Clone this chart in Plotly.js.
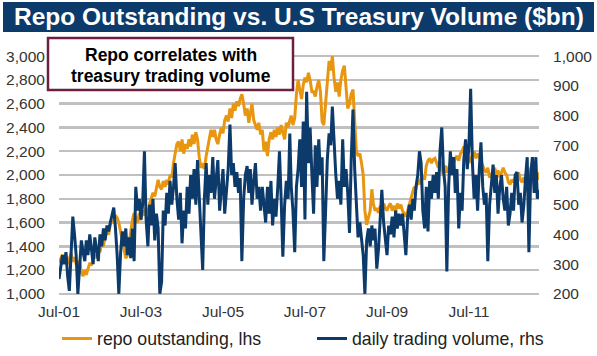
<!DOCTYPE html>
<html>
<head>
<meta charset="utf-8">
<script src="https://cdn.plot.ly/plotly-3.0.1.min.js"></script>
<style>html,body{margin:0;padding:0;background:#fff;}#chart{width:597px;height:356px;}</style>
</head>
<body>
<div id="chart"></div>
<script>
// ---- data (semi-monthly observations, Jul 2001 .. Mar 2013) ----
const startYear = 2001, startMonth = 7;
const dates = [];
for (let i = 0; i < 282; i++) {
  const m = startMonth - 1 + Math.floor(i / 2);
  const y = startYear + Math.floor(m / 12);
  const mm = (m % 12) + 1;
  dates.push(y + '-' + String(mm).padStart(2, '0') + '-' + (i % 2 ? '16' : '01'));
}

const repoOutstanding = [
1260,1300,1330,1280,1320,1250,1300,1340,1270,1310,
1250,1220,1280,1180,1150,1200,1160,1220,1260,1240,
1280,1330,1300,1380,1350,1430,1400,1480,1520,1500,
1580,1620,1600,1660,1640,1600,1520,1450,1380,1300,
1320,1420,1520,1620,1680,1640,1600,1680,1620,1700,
1660,1720,1680,1760,1800,1850,1820,1900,1960,1900,
1880,1950,1900,1960,1920,2000,1980,2100,2200,2260,
2280,2200,2300,2180,2260,2220,2300,2240,2340,2260,
2360,2300,2150,2060,2100,2050,2160,2250,2300,2380,
2320,2380,2300,2260,2340,2400,2350,2460,2500,2450,
2560,2480,2600,2540,2620,2580,2640,2680,2600,2500,
2560,2440,2520,2600,2460,2420,2380,2440,2340,2380,
2200,2280,2160,2300,2360,2300,2380,2320,2400,2340,
2420,2360,2300,2440,2400,2460,2500,2420,2480,2680,
2800,2720,2640,2760,2820,2780,2860,2800,2700,2700,
2660,2740,2800,2700,2450,2420,2620,2800,2960,2880,
3000,2820,2700,2780,2660,2800,2880,2920,2720,2560,
2600,2680,2720,2500,2200,2160,2180,2100,2000,1700,
1580,1640,1700,1880,1760,1700,1720,1680,1740,1700,
1760,1720,1700,1740,1760,1700,1740,1690,1760,1720,
1750,1700,1680,1650,1700,1760,1800,1860,1900,1880,
1960,1920,1980,2000,1960,2080,2120,2140,2100,2130,
2140,2100,2060,2120,2040,2000,2080,2020,2060,2100,
2050,2110,2140,2160,2120,2180,2200,2240,2200,2160,
2100,2140,2160,2200,2140,2180,2150,2120,2080,2040,
2020,2060,1980,2000,2040,2060,2000,2040,1980,2020,
2060,2020,2000,1940,1920,1960,1940,1980,2000,2020,
1960,1940,1980,1920,1960,2000,2060,2100,2040,1980,2020,1960];

const tradingVolume = [
250,290,330,300,340,260,210,330,460,400,
330,200,300,380,340,310,380,330,400,350,
300,390,340,310,400,360,420,380,430,410,
440,460,490,420,330,200,340,410,360,420,
330,390,320,420,310,560,480,520,450,500,
680,450,360,500,430,520,380,470,420,200,
240,480,430,540,470,580,500,560,640,520,
450,540,370,480,420,560,470,600,520,620,
500,650,540,430,280,520,640,500,600,540,
660,520,600,650,480,560,620,470,560,620,
770,600,640,560,610,540,590,310,520,600,
630,540,620,500,580,640,520,560,480,560,
500,440,560,470,580,430,520,460,560,680,
520,325,500,580,520,740,560,480,340,560,
620,720,560,780,450,880,640,760,600,470,
700,560,720,600,660,310,480,650,740,700,
830,700,600,520,580,500,720,560,620,540,
405,650,820,620,480,390,440,380,330,200,
380,420,360,430,380,420,285,350,440,550,
440,380,330,430,400,460,390,480,420,470,
430,470,390,330,460,500,450,520,480,560,
600,680,640,480,420,560,410,580,520,600,
540,610,520,680,760,620,560,275,560,680,
600,660,540,620,420,540,480,650,720,620,
700,890,640,520,600,480,620,710,560,500,
540,310,500,580,635,540,600,470,560,600,
520,480,560,430,470,540,480,600,610,500,
540,440,500,590,660,340,600,660,540,660,520,550];

const xTickVals = ['2001-07-01','2003-07-01','2005-07-01','2007-07-01','2009-07-01','2011-07-01'];
const xTickText = ['Jul-01','Jul-03','Jul-05','Jul-07','Jul-09','Jul-11'];
const leftTicks = [1000,1200,1400,1600,1800,2000,2200,2400,2600,2800,3000];
const rightTicks = [200,300,400,500,600,700,800,900,1000];
const seriesNames = ['repo outstanding, lhs', 'daily trading volume, rhs'];
const chartTitle = 'Repo Outstanding vs. U.S Treasury Volume ($bn)';
const noteLines = ['Repo correlates with', 'treasury trading volume'];

// ---- layout helpers (pixel -> paper) ----
const L = 59, T = 55, PW = 480, PH = 240;
const px = x => (x - L) / PW;
const py = y => (T + PH - y) / PH;

const NAVY = '#0b3a6b', ORANGE = '#e8950f';
const FONT = 'Arial, "Liberation Sans", sans-serif';

const traces = [
  { x: dates, y: repoOutstanding, name: seriesNames[0], type: 'scatter', mode: 'lines',
    line: { color: ORANGE, width: 3 }, yaxis: 'y', legend: 'legend' },
  { x: dates, y: tradingVolume, name: seriesNames[1], type: 'scatter', mode: 'lines',
    line: { color: NAVY, width: 3 }, yaxis: 'y2', legend: 'legend2' }
];

const legendBase = {
  orientation: 'h', xanchor: 'left', yanchor: 'middle', y: py(339),
  font: { size: 17.7, color: '#222', family: FONT }, itemwidth: 30,
  bgcolor: 'rgba(0,0,0,0)', borderwidth: 0
};

const layout = {
  width: 597, height: 356,
  margin: { l: L, r: 597 - L - PW, t: T, b: 356 - T - PH, pad: 0, autoexpand: false },
  paper_bgcolor: '#fff', plot_bgcolor: '#fff',
  font: { family: FONT, color: '#333' },
  showlegend: true,
  legend: Object.assign({}, legendBase, { x: px(57) }),
  legend2: Object.assign({}, legendBase, { x: px(312) }),
  xaxis: { type: 'date', range: ['2001-07-01', '2013-03-16'], tickmode: 'array',
    tickvals: xTickVals, ticktext: xTickText, showgrid: false, zeroline: false, showline: false,
    ticks: 'outside', ticklen: 2, tickcolor: 'rgba(0,0,0,0)',
    tickfont: { size: 15.5, color: '#333', family: FONT } },
  yaxis: { range: [990, 3010], tickmode: 'array', tickvals: leftTicks, tickformat: ',d',
    showgrid: true, gridcolor: '#c0c0c0', gridwidth: 2.5, zeroline: false, showline: false,
    ticks: 'outside', ticklen: 10, tickcolor: 'rgba(0,0,0,0)',
    tickfont: { size: 15.5, color: '#333', family: FONT } },
  yaxis2: { overlaying: 'y', side: 'right', range: [196, 1004], tickmode: 'array',
    tickvals: rightTicks, tickformat: ',d', showgrid: false, zeroline: false, showline: false,
    ticks: 'outside', ticklen: 10, tickcolor: 'rgba(0,0,0,0)',
    tickfont: { size: 15.5, color: '#333', family: FONT } },
  shapes: [
    { type: 'rect', xref: 'paper', yref: 'paper', x0: px(3), x1: px(594), y0: py(2), y1: py(32),
      fillcolor: NAVY, line: { width: 0 }, layer: 'above' },
    { type: 'rect', xref: 'paper', yref: 'paper', x0: px(48), x1: px(293), y0: py(38), y1: py(90),
      fillcolor: '#fff', line: { color: '#6d1f42', width: 2.5 }, layer: 'above' }
  ],
  annotations: [
    { xref: 'paper', yref: 'paper', x: px(298.5), y: py(17), xanchor: 'center', yanchor: 'middle',
      text: chartTitle, showarrow: false,
      font: { family: FONT, size: 24.5, color: '#fff', weight: 'bold' } },
    { xref: 'paper', yref: 'paper', x: px(170.5), y: py(55), xanchor: 'center', yanchor: 'middle',
      text: noteLines[0], showarrow: false,
      font: { family: FONT, size: 17.5, color: '#000', weight: 'bold' } },
    { xref: 'paper', yref: 'paper', x: px(170.5), y: py(75.7), xanchor: 'center', yanchor: 'middle',
      text: noteLines[1], showarrow: false,
      font: { family: FONT, size: 17.5, color: '#000', weight: 'bold' } }
  ]
};

Plotly.newPlot('chart', traces, layout, { staticPlot: true, displayModeBar: false });
</script>
</body>
</html>
